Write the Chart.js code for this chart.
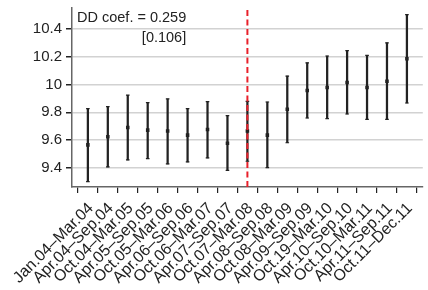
<!DOCTYPE html>
<html>
<head>
<meta charset="utf-8">
<script src="https://cdn.jsdelivr.net/npm/chart.js@4.4.1/dist/chart.umd.min.js"></script>
<style>
  html, body { margin: 0; padding: 0; background: #fff; }
  #wrap { width: 428px; height: 290px; }
</style>
</head>
<body>
<div id="wrap"><canvas id="chart" width="428" height="290"></canvas></div>
<script>
// Half-year periods on the x axis
const periods = [
  'Jan.04\u2013Mar.04', 'Apr.04\u2013Sep.04', 'Oct.04\u2013Mar.05', 'Apr.05\u2013Sep.05',
  'Oct.05\u2013Mar.06', 'Apr.06\u2013Sep.06', 'Oct.06\u2013Mar.07', 'Apr.07\u2013Sep.07',
  'Oct.07\u2013Mar.08', 'Apr.08\u2013Sep.08', 'Oct.08\u2013Mar.09', 'Apr.09\u2013Sep.09',
  'Oct.19\u2013Mar.10', 'Apr.10\u2013Sep.10', 'Oct.10\u2013Mar.11', 'Apr.11\u2013Sep.11',
  'Oct.11\u2013Dec.11'
];

// point estimates and confidence bounds
const estimates = [9.566, 9.624, 9.691, 9.672, 9.665, 9.636, 9.677, 9.578, 9.665,
                   9.636, 9.822, 9.957, 9.978, 10.015, 9.978, 10.024, 10.185];
const upper = [9.827, 9.841, 9.923, 9.870, 9.896, 9.827, 9.877, 9.776, 9.879,
               9.874, 10.060, 10.156, 10.205, 10.243, 10.210, 10.299, 10.503];
const lower = [9.301, 9.407, 9.458, 9.467, 9.429, 9.443, 9.472, 9.383, 9.448,
               9.402, 9.581, 9.759, 9.754, 9.788, 9.749, 9.749, 9.867];

const yTicks = [9.4, 9.6, 9.8, 10, 10.2, 10.4];
const eventIndex = 8; // policy break
const coefText = 'DD coef. = 0.259';
const seText = '[0.106]';

const Y_MIN = 9.263, Y_MAX = 10.55;
const ink = '#222';
const FONT = '"Liberation Sans", Arial, sans-serif';

// annotation in the top left of the plot
const notePlugin = {
  id: 'note',
  afterDatasetsDraw(chart) {
    const { ctx, chartArea } = chart;
    ctx.save();
    ctx.fillStyle = ink;
    ctx.font = '14.5px ' + FONT;
    ctx.textBaseline = 'middle';
    ctx.textAlign = 'left';
    const x0 = chartArea.left + 5;
    ctx.fillText(coefText, x0, 18);
    const w = ctx.measureText(coefText).width;
    ctx.textAlign = 'right';
    ctx.fillText(seText, x0 + w, 38);
    ctx.restore();
  }
};

const idx = periods.map((_, i) => i);

new Chart(document.getElementById('chart'), {
  type: 'scatter',
  data: {
    datasets: [
      {
        type: 'line',
        data: [{ x: eventIndex, y: Y_MIN }, { x: eventIndex, y: Y_MAX }],
        borderColor: '#e8202a',
        borderWidth: 2,
        borderDash: [6, 3.5],
        pointRadius: 0,
        fill: false,
        order: 0
      },
      {
        type: 'bar',
        data: idx.map(i => ({ x: i, y: [lower[i], upper[i]] })),
        backgroundColor: ink,
        barThickness: 1.6,
        grouped: false,
        order: 3
      },
      {
        data: idx.map(i => ({ x: i, y: upper[i] })).concat(idx.map(i => ({ x: i, y: lower[i] }))),
        pointStyle: 'line',
        pointRadius: 1.8,
        borderColor: ink,
        borderWidth: 1.2,
        order: 2
      },
      {
        data: idx.map(i => ({ x: i, y: estimates[i] })),
        pointStyle: 'rect',
        pointRadius: 2.5,
        backgroundColor: ink,
        borderColor: ink,
        borderWidth: 0,
        order: 1
      }
    ]
  },
  options: {
    responsive: false,
    animation: false,
    layout: { padding: { top: 8, right: 0, left: 0, bottom: 0 } },
    plugins: { legend: { display: false }, tooltip: { enabled: false } },
    scales: {
      x: {
        type: 'linear',
        min: -0.279,
        max: 16.279,
        afterBuildTicks: axis => { axis.ticks = idx.map(v => ({ value: v })); },
        afterFit: axis => {
          axis.height = 103;
          axis.paddingLeft = 0;
          axis.paddingRight = 0;
        },
        grid: {
          drawOnChartArea: false,
          drawTicks: true,
          tickLength: 6,
          color: ink,
          lineWidth: 1.2
        },
        border: { color: '#666', width: 1.5 },
        ticks: {
          autoSkip: false,
          minRotation: 45,
          maxRotation: 45,
          padding: 6,
          labelOffset: 3,
          color: ink,
          font: { family: FONT, size: 16 },
          callback: v => periods[v]
        }
      },
      y: {
        min: Y_MIN,
        max: Y_MAX,
        afterBuildTicks: axis => { axis.ticks = yTicks.map(v => ({ value: v })); },
        afterFit: axis => {
          axis.width = 72;
          axis.paddingTop = 0;
          axis.paddingBottom = 0;
        },
        grid: {
          color: '#d2d2d2',
          lineWidth: 1.5,
          tickLength: 6,
          tickColor: ink
        },
        border: { color: '#666', width: 1.5 },
        ticks: {
          padding: 4,
          color: ink,
          font: { family: FONT, size: 15 },
          callback: v => String(v)
        }
      }
    }
  },
  plugins: [notePlugin]
});
</script>
</body>
</html>
